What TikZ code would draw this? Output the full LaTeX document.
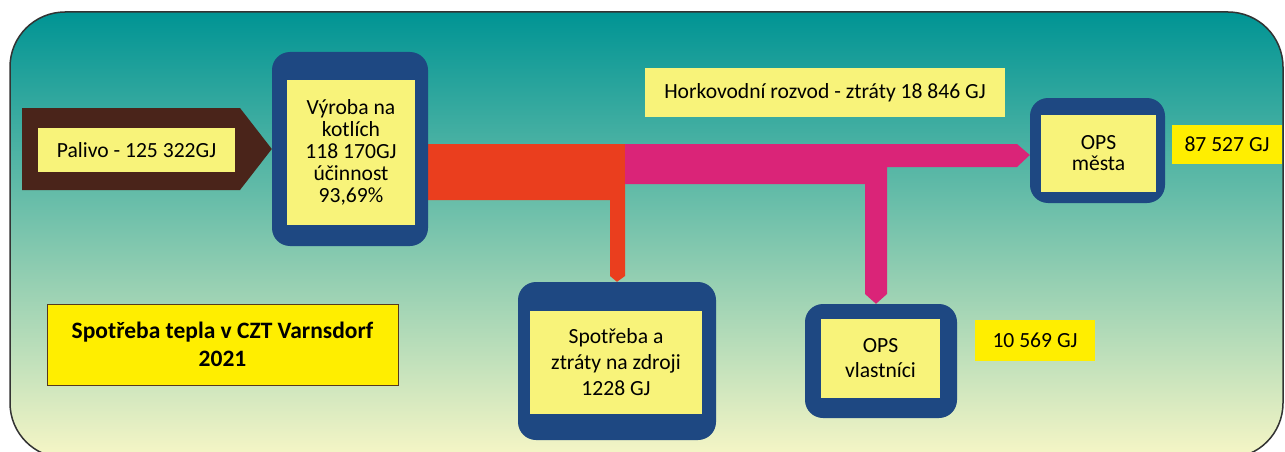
\documentclass[tikz,border=0pt]{standalone}
\usepackage{fontspec}
\setmainfont{Carlito}
\definecolor{tealtop}{RGB}{0,148,148}
\definecolor{tealmid}{RGB}{118,200,188}
\definecolor{palebottom}{RGB}{247,246,198}
\definecolor{boxblue}{RGB}{30,72,130}
\definecolor{paleyellow}{RGB}{248,243,122}
\definecolor{brightyellow}{RGB}{255,238,0}
\definecolor{fuelbrown}{RGB}{74,36,26}
\definecolor{lossred}{RGB}{234,62,30}
\definecolor{heatpink}{RGB}{218,36,120}
\pgfdeclarelayer{bg}
\pgfdeclarelayer{flows}
\pgfsetlayers{bg,flows,main}
\tikzset{
  outerbox/.style={fill=boxblue, rounded corners=18pt, inner sep=0pt},
  innerbox/.style={fill=paleyellow, inner sep=0pt, align=center},
  valuebox/.style={fill=brightyellow, inner sep=0pt, align=center},
}
\begin{document}
\begin{tikzpicture}[x=1pt, y=-1pt, font=\fontsize{21.6}{23}\selectfont]
\useasboundingbox (0,0) rectangle (1285,452);
\begin{pgfonlayer}{bg}
\fill[white] (0,0) rectangle (1285,452);
\clip (0,0) rectangle (1285,452);
\shadedraw[top color=tealtop, middle color=tealmid, bottom color=palebottom, draw=black!80, line width=1.5pt, rounded corners=55pt] (10,12) rectangle (1283,458);
\end{pgfonlayer}
% boxes
\node[outerbox, minimum width=156pt, minimum height=194pt] (vyroba) at (350,149) {};
\node[innerbox, minimum width=128pt, minimum height=145pt, font=\fontsize{21.6}{22}\selectfont] (vyrobaT) at (351,152.5) {Výroba na\\kotlích\\118 170GJ\\účinnost\\93,69\%};
\node[outerbox, minimum width=198pt, minimum height=158pt] (zdroj) at (617,361) {};
\node[innerbox, minimum width=172pt, minimum height=103pt, font=\fontsize{21.6}{26}\selectfont] (zdrojT) at (616,362.5) {Spotřeba a\\ztráty na zdroji\\1228 GJ};
\node[outerbox, minimum width=135pt, minimum height=105pt] (mesta) at (1097.5,150.5) {};
\node[innerbox, minimum width=115pt, minimum height=77pt, font=\fontsize{21.6}{21}\selectfont] (mestaT) at (1098.5,153.5) {OPS\\města};
\node[outerbox, minimum width=152pt, minimum height=114pt] (vlastnici) at (881,361) {};
\node[innerbox, minimum width=119pt, minimum height=79pt, font=\fontsize{21.6}{25}\selectfont] (vlastniciT) at (880.5,358.5) {OPS\\vlastníci};
% labels
\node[innerbox, minimum width=197pt, minimum height=44pt] (palivo) at (136.5,150) {Palivo - 125 322GJ};
\node[innerbox, minimum width=360pt, minimum height=49pt] (rozvod) at (825,92.5) {Horkovodní rozvod - ztráty 18 846 GJ};
\node[valuebox, minimum width=110pt, minimum height=39pt] (mestaGJ) at (1227,144.5) {87 527 GJ};
\node[valuebox, minimum width=120pt, minimum height=41pt] (vlastniciGJ) at (1035,340.5) {10 569 GJ};
\node[valuebox, draw=black!55!brown, minimum width=351pt, minimum height=81pt, font=\bfseries\fontsize{23.5}{28}\selectfont] (nadpis) at (222.5,344.5) {Spotřeba tepla v CZT Varnsdorf\\2021};
% flows
\begin{pgfonlayer}{flows}
\fill[fuelbrown] (22,108) -- (240,108) -- (vyroba.west) -- (240,190) -- (22,190) -- cycle;
\fill[lossred] (vyroba.east |- 0,144) -- (625,144) -- (625,276) -- (zdroj.north) -- (610,276) -- (610,200) -- (vyroba.east |- 0,200) -- cycle;
\fill[heatpink] (625,144) -- (1017,144) -- (mesta.west |- 0,155) -- (1017,167) -- (887,167) -- (887,294) -- (vlastnici.north -| 876,0) -- (865,294) -- (865,184) -- (625,184) -- cycle;
\end{pgfonlayer}
\end{tikzpicture}
\end{document}
